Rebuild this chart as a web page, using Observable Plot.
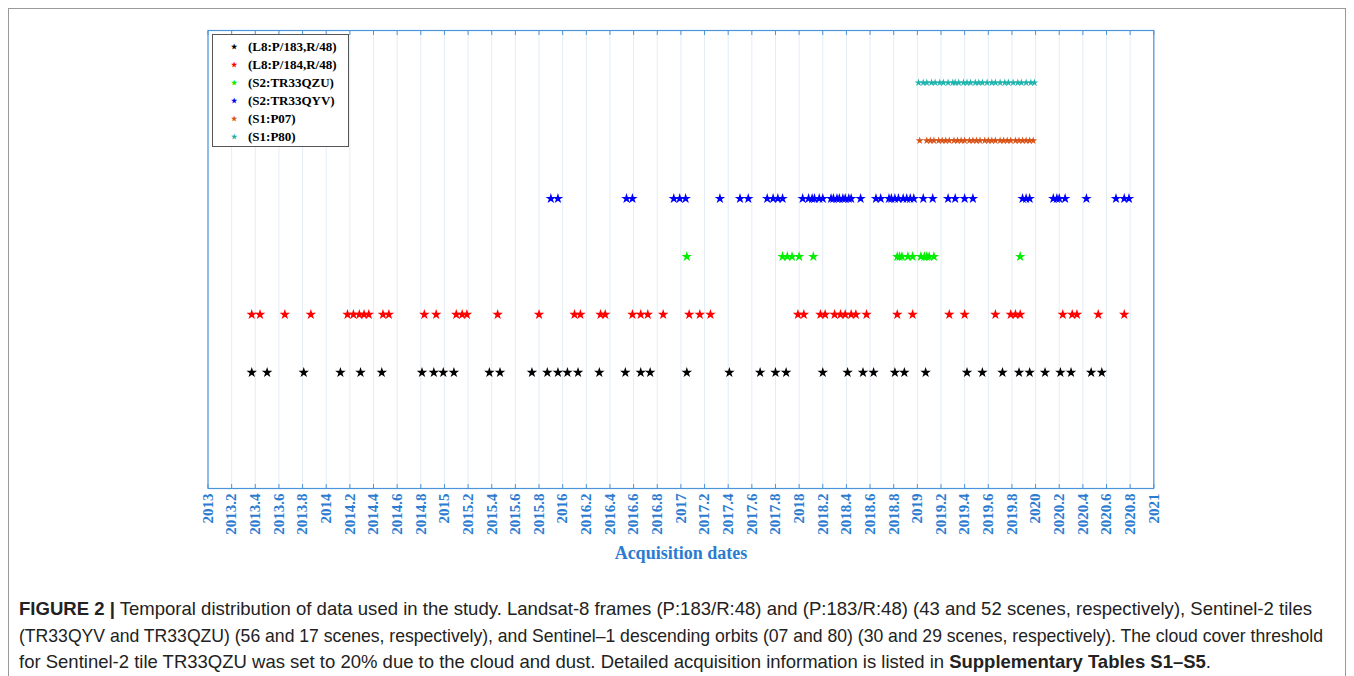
<!DOCTYPE html>
<html>
<head>
<meta charset="utf-8">
<script src="https://cdn.jsdelivr.net/npm/d3@7"></script>
<script src="https://cdn.jsdelivr.net/npm/@observablehq/plot@0.6"></script>
<style>
  html, body { margin: 0; padding: 0; background: #fff; }
  #page { position: relative; width: 1354px; height: 676px; overflow: hidden; background: #fff; }
  #frame { position: absolute; left: 8px; top: 8px; width: 1338px; height: 700px; border: 1px solid #9a9a9a; box-sizing: border-box; }
  #chart { position: absolute; left: 0; top: 0; }
  #legend { position: absolute; left: 212px; top: 34px; width: 137px; height: 113px; border: 1px solid #555; box-sizing: border-box; background: #fff;
            font-family: "Liberation Serif", "Times New Roman", serif; font-weight: bold; font-size: 13px; color: #000; }
  #legend .row { position: absolute; left: 0; height: 18px; line-height: 18px; white-space: nowrap; }
  #legend .mk { position: absolute; left: 16px; width: 10px; text-align: center; font-size: 7px; }
  #legend .tx { position: absolute; left: 35px; }
  #caption { position: absolute; left: 19px; top: 596px; width: 1330px; font-family: "Liberation Sans", Arial, sans-serif;
             font-size: 18.5px; line-height: 26.5px; color: #222; white-space: nowrap; }
  #caption .line { display: block; }
  #caption .line span.inner { display: inline-block; transform-origin: 0 50%; }
</style>
</head>
<body>
<div id="page">
  <div id="frame"></div>
  <div id="chart"></div>
  <div id="legend"></div>
  <div id="caption"></div>
</div>
<script>
// ---- data (decimal years) ----
const seriesNames = ["(L8:P/183,R/48)", "(L8:P/184,R/48)", "(S2:TR33QZU)", "(S2:TR33QYV)", "(S1:P07)", "(S1:P80)"];
const seriesColors = ["#000000", "#ff0000", "#00ee00", "#0000ff", "#d95319", "#1fb3ae"];
const seriesRows = [2, 3, 4, 5, 6, 7];

const l8p183 = [2013.37, 2013.50, 2013.81, 2014.12, 2014.29, 2014.47, 2014.81, 2014.91, 2014.99, 2015.08,
  2015.38, 2015.47, 2015.74, 2015.87, 2015.96, 2016.04, 2016.13, 2016.31, 2016.53, 2016.66,
  2016.74, 2017.05, 2017.41, 2017.67, 2017.80, 2017.89, 2018.20, 2018.41, 2018.54, 2018.63,
  2018.81, 2018.89, 2019.07, 2019.42, 2019.55, 2019.72, 2019.86, 2019.95, 2020.08, 2020.21,
  2020.30, 2020.47, 2020.56];

const l8p184 = [2013.37, 2013.44, 2013.65, 2013.87, 2014.18, 2014.23, 2014.28, 2014.32, 2014.36, 2014.48,
  2014.53, 2014.83, 2014.93, 2015.10, 2015.15, 2015.19, 2015.45, 2015.80, 2016.10, 2016.15,
  2016.32, 2016.36, 2016.59, 2016.66, 2016.72, 2016.85, 2017.07, 2017.16, 2017.25, 2017.99,
  2018.04, 2018.18, 2018.22, 2018.30, 2018.35, 2018.39, 2018.44, 2018.48, 2018.57, 2018.83,
  2018.96, 2019.27, 2019.40, 2019.66, 2019.79, 2019.83, 2019.87, 2020.23, 2020.31, 2020.35,
  2020.53, 2020.75];

const s2qzu = [2017.05, 2017.86, 2017.90, 2017.94, 2018.00, 2018.12, 2018.83, 2018.85, 2018.87, 2018.92,
  2018.96, 2019.03, 2019.06, 2019.08, 2019.10, 2019.14, 2019.87];

const s2qyv = [2015.90, 2015.96, 2016.54, 2016.59, 2016.94, 2016.99, 2017.04, 2017.33, 2017.50, 2017.57,
  2017.73, 2017.78, 2017.82, 2017.86, 2018.03, 2018.08, 2018.11, 2018.13, 2018.17, 2018.20,
  2018.27, 2018.29, 2018.32, 2018.34, 2018.37, 2018.39, 2018.42, 2018.44, 2018.52, 2018.65,
  2018.69, 2018.76, 2018.78, 2018.81, 2018.84, 2018.88, 2018.91, 2018.94, 2018.97, 2019.05,
  2019.13, 2019.26, 2019.32, 2019.40, 2019.47, 2019.89, 2019.92, 2019.95, 2020.15, 2020.18,
  2020.20, 2020.25, 2020.43, 2020.68, 2020.75, 2020.79];

const s1p07 = [2019.02, 2019.08, 2019.11, 2019.14, 2019.18, 2019.21, 2019.24, 2019.27, 2019.31, 2019.34,
  2019.37, 2019.40, 2019.44, 2019.47, 2019.50, 2019.53, 2019.57, 2019.60, 2019.63, 2019.66,
  2019.70, 2019.73, 2019.76, 2019.79, 2019.83, 2019.86, 2019.89, 2019.92, 2019.95, 2019.98];

const s1p80 = [2019.01, 2019.05, 2019.08, 2019.12, 2019.15, 2019.19, 2019.22, 2019.26, 2019.30,
  2019.32, 2019.35, 2019.39, 2019.42, 2019.45, 2019.49,
  2019.52, 2019.55, 2019.59, 2019.63, 2019.66, 2019.70, 2019.74, 2019.77, 2019.81, 2019.85,
  2019.88, 2019.92, 2019.96, 2019.99];

const tickLabels = ["2013","2013.2","2013.4","2013.6","2013.8","2014","2014.2","2014.4","2014.6","2014.8",
  "2015","2015.2","2015.4","2015.6","2015.8","2016","2016.2","2016.4","2016.6","2016.8",
  "2017","2017.2","2017.4","2017.6","2017.8","2018","2018.2","2018.4","2018.6","2018.8",
  "2019","2019.2","2019.4","2019.6","2019.8","2020","2020.2","2020.4","2020.6","2020.8","2021"];
const xLabel = "Acquisition dates";

const captionLines = [
  '<b>FIGURE 2 |</b> Temporal distribution of data used in the study. Landsat-8 frames (P:183/R:48) and (P:183/R:48) (43 and 52 scenes, respectively), Sentinel-2 tiles',
  '(TR33QYV and TR33QZU) (56 and 17 scenes, respectively), and Sentinel–1 descending orbits (07 and 80) (30 and 29 scenes, respectively). The cloud cover threshold',
  'for Sentinel-2 tile TR33QZU was set to 20% due to the cloud and dust. Detailed acquisition information is listed in <b>Supplementary Tables S1–S5</b>.'
];
const captionWidths = [1293, 1304, 1192];

// ---- build table ----
const seriesData = [l8p183, l8p184, s2qzu, s2qyv, s1p07, s1p80];
const table = seriesData.flatMap((arr, i) => arr.map(v => ({date: v, row: seriesRows[i], series: seriesNames[i], s1: i >= 4})));
const ticks = tickLabels.map(Number);

const axisColor = "#4d95db";
const textColor = "#2b7bd0";
const serif = '"Liberation Serif", "Times New Roman", serif';

const plot = Plot.plot({
  width: 1354,
  height: 580,
  marginLeft: 207.5,
  marginRight: 200.7,
  marginTop: 30,
  marginBottom: 92,
  style: {background: "transparent", fontFamily: serif, overflow: "visible"},
  x: {domain: [2013, 2021], axis: null, label: null},
  y: {domain: [0, 7.9], axis: null, label: null},
  color: {domain: seriesNames, range: seriesColors},
  marks: [
    Plot.gridX(ticks, {stroke: "#e3edf7", strokeOpacity: 1, strokeWidth: 1}),
    Plot.dot(table.filter(d => !d.s1), {x: "date", y: "row", fill: "series", symbol: "star", r: 3.3, stroke: "none"}),
    Plot.dot(table.filter(d => d.s1), {x: "date", y: "row", fill: "series", symbol: "star", r: 2.5, stroke: "none"}),
    Plot.frame({stroke: axisColor, strokeWidth: 1.2}),
    Plot.axisX({anchor: "bottom", ticks, tickSize: -4, tickFormat: () => "", label: null, stroke: axisColor}),
    Plot.axisX({anchor: "top", ticks, tickSize: -4, tickFormat: () => "", label: null, stroke: axisColor}),
    Plot.axisX({anchor: "bottom", ticks, tickSize: 0, tickPadding: 5, tickRotate: -90, label: null,
      tickFormat: d => tickLabels[ticks.indexOf(d)] ?? String(d),
      fill: textColor, fontSize: 15, fontWeight: "bold", fontFamily: serif}),
    Plot.text([xLabel], {frameAnchor: "bottom", dy: 70, fill: textColor, fontSize: 18, fontWeight: "bold", fontFamily: serif})
  ]
});
document.getElementById("chart").appendChild(plot);

// ---- legend ----
const legend = document.getElementById("legend");
const rowTops = [3, 21, 39, 57, 75, 93];
seriesNames.forEach((name, i) => {
  const row = document.createElement("div");
  row.className = "row";
  row.style.top = rowTops[i] + "px";
  const mk = document.createElement("span");
  mk.className = "mk";
  mk.style.color = seriesColors[i];
  mk.textContent = "★";
  const tx = document.createElement("span");
  tx.className = "tx";
  tx.textContent = name;
  row.appendChild(mk);
  row.appendChild(tx);
  legend.appendChild(row);
});

// ---- caption (each line condensed to the reference width) ----
const cap = document.getElementById("caption");
captionLines.forEach((html, i) => {
  const line = document.createElement("div");
  line.className = "line";
  const inner = document.createElement("span");
  inner.className = "inner";
  inner.innerHTML = html;
  line.appendChild(inner);
  cap.appendChild(line);
  const w = inner.getBoundingClientRect().width;
  if (w > 0) inner.style.transform = `scaleX(${captionWidths[i] / w})`;
});
</script>
</body>
</html>
